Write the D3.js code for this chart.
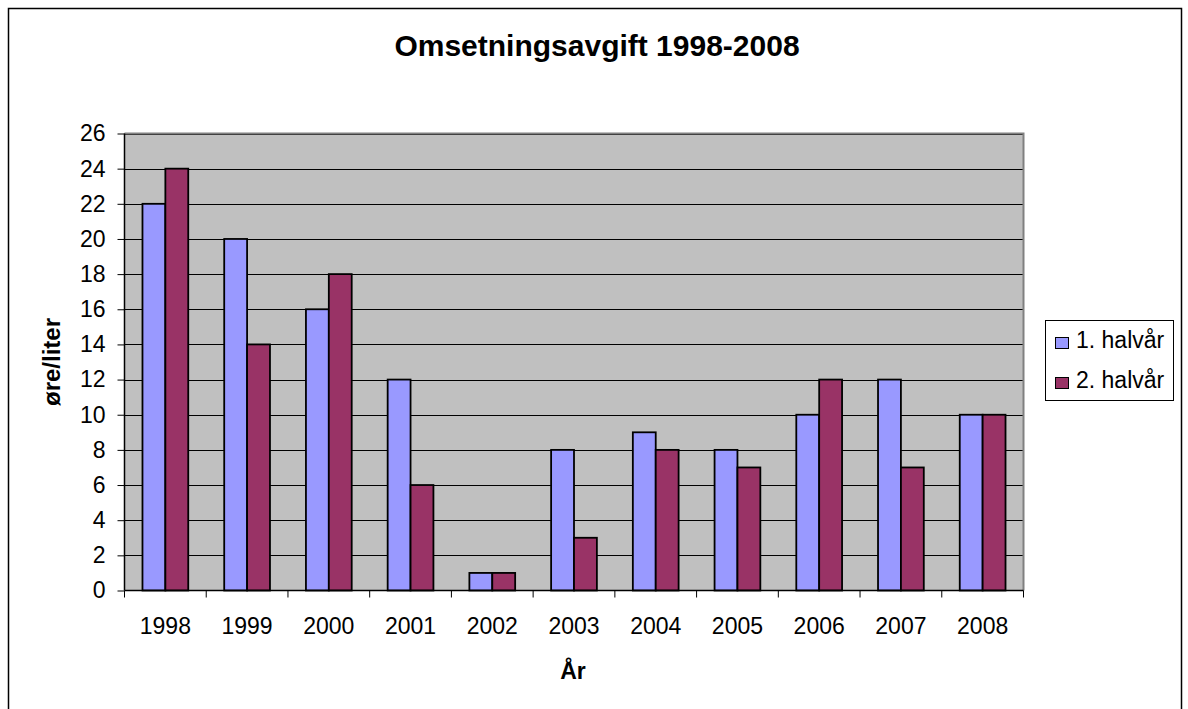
<!DOCTYPE html>
<html><head><meta charset="utf-8">
<script src="https://cdn.jsdelivr.net/npm/d3@7"></script>
<style>body{margin:0;background:#fff}svg{display:block;font-family:"Liberation Sans",Arial,sans-serif}</style>
</head><body>
<svg id="c" width="1188" height="709"></svg>
<script>
const categories = ["1998","1999","2000","2001","2002","2003","2004","2005","2006","2007","2008"];
const series1 = [22,20,16,12,1,8,9,8,10,12,10];
const series2 = [24,14,18,6,1,3,8,7,12,7,10];
const seriesNames = ["1. halvår","2. halvår"];
const yTicks = d3.range(0,27,2);
const colors = ["#9999FF","#993366"];

const svg = d3.select("#c");
// outer frame
svg.append("rect").attr("x",8.5).attr("y",8.5).attr("width",1173).attr("height",720)
  .attr("fill","#fff").attr("stroke","#000").attr("stroke-width",1.5);

const L=124.5, R=1023.5, T=133.5, B=590.5;
const x = d3.scaleBand().domain(categories).range([L,R]).paddingInner(0).paddingOuter(0);
const y = d3.scaleLinear().domain([0,26]).range([B,T]);
const barW = x.bandwidth()*0.28;

svg.append("rect").attr("x",L).attr("y",T).attr("width",R-L).attr("height",B-T).attr("fill","#C0C0C0");
// gridlines
svg.append("g").selectAll("line").data(yTicks.filter(d=>d>0)).join("line")
  .attr("x1",L).attr("x2",R).attr("y1",d=>Math.round(y(d))+0.5).attr("y2",d=>Math.round(y(d))+0.5)
  .attr("stroke","#000").attr("stroke-width",1);
// plot border top/right gray
svg.append("path").attr("d",`M${L},${T}H${R}V${B}`).attr("fill","none").attr("stroke","#808080").attr("stroke-width",2);

const data = categories.map((c,i)=>({c, v:[series1[i],series2[i]]}));
const g = svg.append("g");
data.forEach(d=>{
  d.v.forEach((v,k)=>{
    const cx = x(d.c)+x.bandwidth()/2;
    const x0 = k===0 ? cx-barW : cx;
    g.append("rect").attr("x",x0).attr("y",y(v)).attr("width",barW).attr("height",y(0)-y(v))
      .attr("fill",colors[k]).attr("stroke","#000").attr("stroke-width",1.8);
  });
});

// axes
const ya = d3.axisLeft(y).tickValues(yTicks).tickSize(7).tickPadding(12);
const yg = svg.append("g").attr("transform",`translate(${L},0)`).call(ya);
yg.select(".domain").attr("stroke","#000").attr("stroke-width",1.5).attr("d",`M0,${T}V${B}`);
yg.selectAll("text").attr("font-size",23).attr("fill","#000").attr("font-family","Liberation Sans, Arial, sans-serif");

const xTickScale = d3.scaleLinear().domain([0,categories.length]).range([L,R]);
const xg = svg.append("g");
xg.append("line").attr("x1",L).attr("x2",R).attr("y1",B).attr("y2",B).attr("stroke","#000").attr("stroke-width",1.5);
xg.selectAll(".tk").data(d3.range(0,categories.length+1)).join("line")
  .attr("x1",d=>xTickScale(d)).attr("x2",d=>xTickScale(d)).attr("y1",B).attr("y2",B+7).attr("stroke","#000");
xg.selectAll("text").data(categories).join("text")
  .attr("x",d=>x(d)+x.bandwidth()/2).attr("y",634).attr("text-anchor","middle")
  .attr("font-size",23).text(d=>d);

// titles
svg.append("text").attr("x",597).attr("y",56).attr("text-anchor","middle").attr("font-size",30).attr("font-weight","bold").text("Omsetningsavgift 1998-2008");
svg.append("text").attr("x",573).attr("y",679).attr("text-anchor","middle").attr("font-size",23).attr("font-weight","bold").text("År");
svg.append("text").attr("transform","translate(60,362) rotate(-90)").attr("text-anchor","middle").attr("font-size",24).attr("font-weight","bold").text("øre/liter");

// legend
svg.append("rect").attr("x",1045.5).attr("y",320.5).attr("width",128).attr("height",80).attr("fill","#fff").attr("stroke","#000").attr("stroke-width",1);
const lg = svg.append("g").selectAll("g").data(seriesNames).join("g").attr("transform",(d,i)=>`translate(0,${i*40})`);
lg.append("rect").attr("x",1055.5).attr("y",337.5).attr("width",13).attr("height",11).attr("fill",(d,i)=>colors[i]).attr("stroke","#000").attr("stroke-width",1);
lg.append("text").attr("x",1076).attr("y",348).attr("font-size",23).text(d=>d);
</script>
</body></html>
